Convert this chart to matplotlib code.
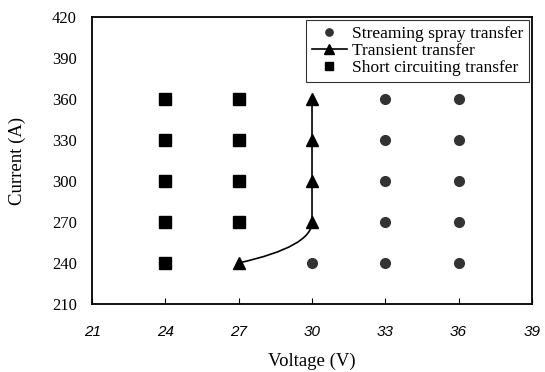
import matplotlib
matplotlib.use('Agg')
import matplotlib.pyplot as plt
from matplotlib.path import Path
from matplotlib.patches import PathPatch

plt.rcParams['font.family'] = ['Liberation Serif', 'DejaVu Serif']

# Streaming spray transfer points
spray_v = [30, 33, 33, 33, 33, 33, 36, 36, 36, 36, 36]
spray_i = [240, 240, 270, 300, 330, 360, 240, 270, 300, 330, 360]

# Transient transfer points
trans_v = [27, 30, 30, 30, 30]
trans_i = [240, 270, 300, 330, 360]

# Short circuiting transfer points
short_v = [24, 24, 24, 24, 24, 27, 27, 27, 27]
short_i = [240, 270, 300, 330, 360, 270, 300, 330, 360]

x_ticks = [21, 24, 27, 30, 33, 36, 39]
y_ticks = [210, 240, 270, 300, 330, 360, 390, 420]

fig = plt.figure(figsize=(5.45, 3.72), dpi=100)
ax = fig.add_axes([0.169, 0.183, 0.807, 0.771])

ax.plot(spray_v, spray_i, 'o', color='#333333', markersize=7,
        linestyle='none', label='Streaming spray transfer')

# transient line: curved from first point to second, then straight up
p0 = (trans_v[0], trans_i[0])
p1 = (trans_v[1], trans_i[1])
verts = [p0,
         (p0[0] + 2.0, p0[1] + 8),
         (p1[0], p1[1] - 12),
         p1]
codes = [Path.MOVETO, Path.CURVE4, Path.CURVE4, Path.CURVE4]
for v, i in zip(trans_v[2:], trans_i[2:]):
    verts.append((v, i))
    codes.append(Path.LINETO)
ax.add_patch(PathPatch(Path(verts, codes), facecolor='none',
                       edgecolor='black', linewidth=1.2))
ax.plot(trans_v, trans_i, '^', color='black', markersize=9,
        linestyle='none')
ax.plot([], [], '-^', color='black', markersize=9, linewidth=1.2,
        label='Transient transfer')

ax.plot(short_v, short_i, 's', color='black', markersize=8.5,
        linestyle='none', label='Short circuiting transfer')

ax.set_xlim(21, 39)
ax.set_ylim(210, 420)
ax.set_xticks(x_ticks)
ax.set_yticks(y_ticks)
ax.set_xticklabels([str(t) for t in x_ticks], fontstyle='italic',
                   family=['Liberation Sans', 'DejaVu Sans'])
ax.tick_params(axis='x', direction='in', length=4, labelsize=11, pad=15)
ax.tick_params(axis='y', direction='in', length=0, labelsize=12, pad=11)
for s in ax.spines.values():
    s.set_linewidth(1.3)

ax.set_xlabel('Voltage (V)', fontsize=13.5, labelpad=10)
ax.set_ylabel('Current (A)', fontsize=13.5, labelpad=19)

leg = ax.legend(loc='upper right', fontsize=12.5, frameon=True, fancybox=False,
                edgecolor='black', handlelength=2.0, handletextpad=0.3,
                borderpad=0.35, labelspacing=0.05, borderaxespad=0.15,
                markerscale=0.75)
leg.get_frame().set_linewidth(0.8)

fig.savefig('out.png', dpi=100)
